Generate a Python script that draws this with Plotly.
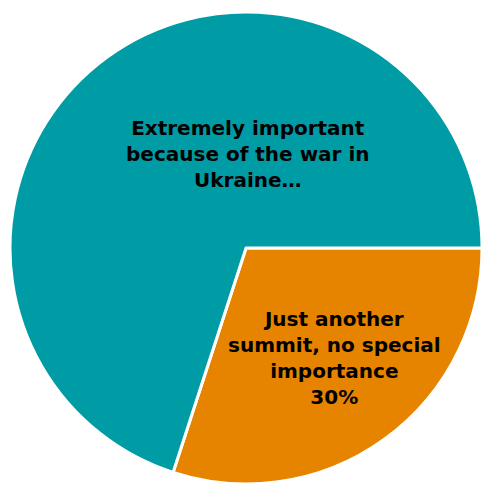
import plotly.graph_objects as go

# Survey responses: how important is the summit?
labels = [
    "Just another summit, no special importance",
    "Extremely important because of the war in Ukraine…",
]
values = [30, 70]
colors = ["#e68400", "#009ca6"]
label_text = [
    "Just another<br>summit, no special<br>importance<br>30%",
    "Extremely important<br>because of the war in<br>Ukraine…",
]
# label anchor points (paper fractions) for each slice's caption
label_x = [334 / 482, 248 / 482]
label_y = [1 - 358 / 484, 1 - 154 / 484]

W, H = 482, 484

fig = go.Figure(
    go.Pie(
        labels=labels,
        values=values,
        textinfo="none",
        sort=False,
        direction="clockwise",
        rotation=90,
        marker=dict(colors=colors, line=dict(color="white", width=3)),
        domain=dict(x=[10 / W, 1], y=[0, 1 - 12 / H]),
        showlegend=False,
        hoverinfo="label+percent",
    )
)

for txt, x, y in zip(label_text, label_x, label_y):
    fig.add_annotation(
        text=txt,
        x=x,
        y=y,
        xref="paper",
        yref="paper",
        xanchor="center",
        yanchor="middle",
        align="center",
        showarrow=False,
        font=dict(family="DejaVu Sans", size=20, color="black", weight="bold"),
    )

fig.update_layout(
    width=W,
    height=H,
    margin=dict(l=0, r=0, t=0, b=0),
    paper_bgcolor="white",
    plot_bgcolor="white",
)

fig.write_html("out.html")
